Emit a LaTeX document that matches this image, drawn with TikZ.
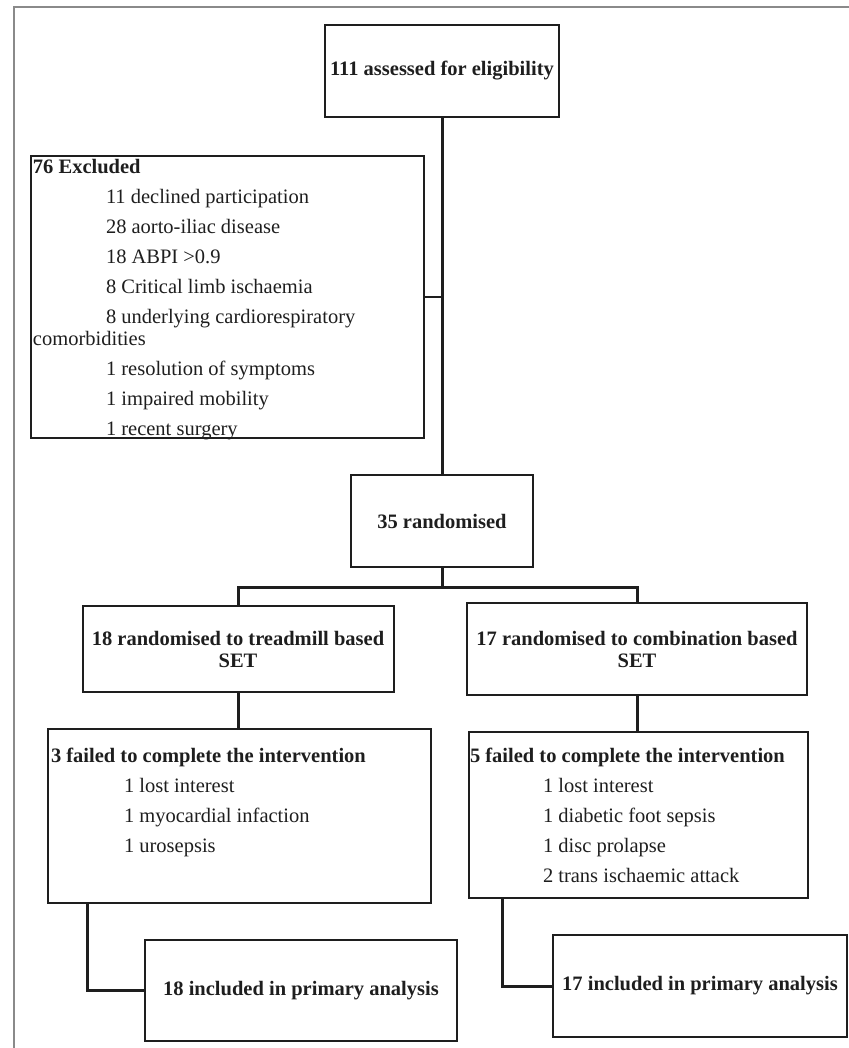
\documentclass[tikz,border=0pt]{standalone}
\usepackage{fontspec}
\setmainfont{Liberation Serif}
\usepackage{tikz}
\usepackage{xcolor}
\usetikzlibrary{positioning,calc}
\definecolor{ink}      {HTML}{1E1E1E}
\definecolor{framegray}{HTML}{8A8A8A}
\newcommand{\flowsize}{\fontsize{10.25pt}{11pt}\selectfont}
\newcommand{\exitem}[1]{\\[4pt]\hspace*{36.5pt}#1}

\begin{document}
\begin{tikzpicture}[x=0.5pt,y=-0.5pt,
    stagebox/.style={draw=ink,line width=1pt,align=center,inner sep=0pt,
                     text=ink,font=\flowsize\bfseries},
    listbox/.style={draw=ink,line width=1pt,inner sep=0pt,anchor=north west,
                    text=ink,font=\flowsize},
    link/.style={draw=ink,line width=1.5pt},
    thinlink/.style={draw=ink,line width=0.6pt}]
  \useasboundingbox (0,0) rectangle (849,1048);
  \draw[framegray,line width=0.7pt] (849,7) -- (14,7) -- (14,1048);

  \node[stagebox,minimum width=117pt,minimum height=46pt] (assess) at (442,71)
    {111 assessed for eligibility};
  \node[listbox] (excl) at (30,155)
    {\parbox[t][141pt][t]{196.5pt}{\raggedright\leftskip=1pt\vspace*{1.75pt}%
     \textbf{76 Excluded}%
     \exitem{11 declined participation}%
     \exitem{28 aorto-iliac disease}%
     \exitem{18 ABPI >0.9}%
     \exitem{8 Critical limb ischaemia}%
     \exitem{8 underlying cardiorespiratory\\comorbidities}%
     \exitem{1 resolution of symptoms}%
     \exitem{1 impaired mobility}%
     \exitem{1 recent surgery}}};
  \node[stagebox,minimum width=91pt,minimum height=46pt] (rand) at (442,521)
    {35 randomised};
  \node[stagebox,minimum width=155.5pt,minimum height=43pt] (tread) at (238,649)
    {18 randomised to treadmill based\\SET};
  \node[stagebox,minimum width=170pt,minimum height=46pt] (combo) at (637,649)
    {17 randomised to combination based\\SET};
  \node[listbox] (fail1) at (47,728)
    {\parbox[t][87pt][t]{191.5pt}{\raggedright\leftskip=1.5pt\vspace*{9.75pt}%
     \textbf{3 failed to complete the intervention}%
     \exitem{1 lost interest}%
     \exitem{1 myocardial infaction}%
     \exitem{1 urosepsis}}};
  \node[listbox] (fail2) at (468,731)
    {\parbox[t][83pt][t]{169.5pt}{\raggedright\leftskip=0.5pt\vspace*{8.25pt}%
     \textbf{5 failed to complete the intervention}%
     \exitem{1 lost interest}%
     \exitem{1 diabetic foot sepsis}%
     \exitem{1 disc prolapse}%
     \exitem{2 trans ischaemic attack}}};
  \node[stagebox,minimum width=156pt,minimum height=50.5pt] (incl1) at (301,990.5)
    {18 included in primary analysis};
  \node[stagebox,minimum width=147pt,minimum height=51pt] (incl2) at (700,986)
    {17 included in primary analysis};

  \coordinate (split) at (442,587);
  \draw[link] (assess.south) -- (rand.north);
  \draw[thinlink] (excl.east) -- (excl.east -| assess.south);
  \draw[link] (rand.south) -- (split);
  \draw[link] (tread.north) |- (split) -| (combo.north);
  \draw[link] (tread.south) -- (tread.south |- fail1.north);
  \draw[link] (combo.south) -- (combo.south |- fail2.north);
  \draw[link] ([xshift=20pt]fail1.south west) |- (incl1.west);
  \draw[link] ([xshift=17pt]fail2.south west) |- (incl2.west);
\end{tikzpicture}
\end{document}
